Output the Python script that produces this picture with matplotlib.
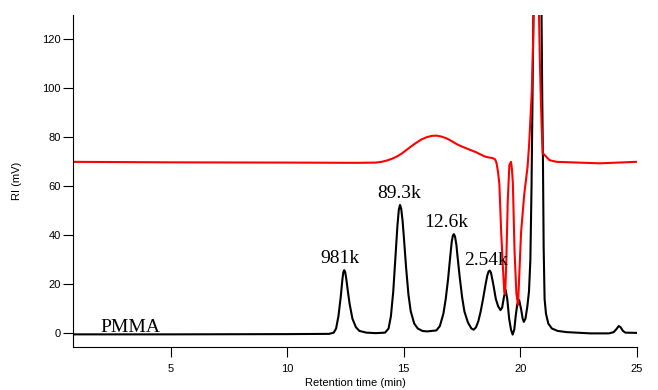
import matplotlib
matplotlib.use("Agg")
import matplotlib.pyplot as plt

# PMMA standards trace (black)
black_t = [0.9, 5.0, 10.0, 11.8, 12.0, 12.1, 12.2, 12.3, 12.37, 12.41, 12.45, 12.49, 12.54,
           12.6, 12.68, 12.8, 12.95, 13.1, 13.4, 13.8, 14.2, 14.35, 14.45, 14.55, 14.65,
           14.73, 14.79, 14.84, 14.89, 14.95, 15.0, 15.1, 15.2, 15.3, 15.45, 15.6, 15.8,
           16.0, 16.2, 16.4, 16.55, 16.7, 16.8, 16.9, 17.0, 17.06, 17.11, 17.15, 17.2,
           17.26, 17.3, 17.4, 17.5, 17.6, 17.75, 17.9, 18.0, 18.1, 18.2, 18.3, 18.4, 18.5,
           18.58, 18.64, 18.69, 18.74, 18.8, 18.85, 18.95, 19.05, 19.15, 19.22, 19.3, 19.37,
           19.44, 19.52, 19.6, 19.67, 19.74, 19.8, 19.87, 19.95, 20.03, 20.1, 20.15, 20.22,
           20.3, 20.37, 20.43, 20.48, 20.52, 20.56, 20.62, 20.7, 20.76, 20.83, 20.9, 20.94,
           20.97, 21.0, 21.04, 21.1, 21.2, 21.35, 21.6, 22.0, 23.0, 23.8, 24.0, 24.1, 24.22,
           24.3, 24.4, 24.5, 25.0]
black_v = [-0.4, -0.4, -0.3, -0.2, 0.3, 2, 7, 15, 22, 25, 25.8, 25, 22,
           17.5, 12, 6, 2.5, 1, 0.3, 0.1, 0.3, 2, 7, 17, 32,
           44, 50.5, 52.4, 51, 46, 40, 27, 16, 9, 4, 2, 1,
           0.8, 1, 1.2, 3, 8, 14, 22, 32, 37.5, 40, 40.5, 39.5,
           36, 32, 23, 15, 9, 4.5, 2, 1.5, 2.5, 5, 9, 14, 19.5,
           23.5, 25.3, 25.6, 24.8, 22, 19.5, 14, 11, 9.5, 10.5, 15, 17.7,
           14, 6, 1.5, -0.5, 1.5, 7, 12, 13.6, 10, 6, 4.7, 6,
           11, 17, 30, 60, 95, 130, 220, 320, 350, 260, 140, 95,
           70, 35, 14, 8, 4, 2, 1, 0.5, 0, 0, 0.5, 1.5, 3,
           2.5, 1, 0.3, 0.2]

# second trace (red)
red_t = [0.9, 5.0, 10.0, 13.0, 13.8, 14.05, 14.26, 14.48, 14.69, 14.9, 15.11, 15.33, 15.54,
         15.75, 15.97, 16.2, 16.4, 16.62, 16.83, 17.05, 17.26, 17.48, 17.69, 17.9, 18.11,
         18.3, 18.47, 18.65, 18.82, 18.92, 18.98, 19.04, 19.1, 19.18, 19.25, 19.31, 19.35,
         19.4, 19.46, 19.53, 19.6, 19.64, 19.68, 19.75, 19.83, 19.9, 19.96, 20.03, 20.17,
         20.31, 20.38, 20.45, 20.49, 20.53, 20.57, 20.62, 20.69, 20.75, 20.8, 20.84, 20.88,
         20.93, 20.96, 21.04, 21.25, 21.55, 23.4, 24.97]
red_v = [70, 69.8, 69.7, 69.6, 69.7, 70, 70.5, 71.2, 72.1, 73.3, 74.8, 76.4, 77.8,
         79.1, 80, 80.6, 80.7, 80.3, 79.6, 78.5, 77.3, 76.3, 75.5, 74.7, 73.9,
         73.0, 72.2, 71.8, 71.5, 71.0, 69.5, 66, 61, 41, 27.5, 17, 16,
         30, 54, 68.7, 70, 67, 61.2, 34, 16.3, 11.6, 25, 41, 57,
         68, 77.5, 91, 98, 112, 130, 200, 260, 200, 130, 110, 95,
         80, 73.5, 72.8, 70.7, 70, 69.4, 70]

peak_labels = ["981k", "89.3k", "12.6k", "2.54k"]
label_t = [12.26, 14.81, 16.83, 18.51]
label_v = [28.7, 55.2, 43.4, 27.9]

fig = plt.figure(figsize=(6.58, 3.9), dpi=100)
ax = fig.add_axes([0.111, 0.110, 0.857, 0.852])

ax.plot(black_t, black_v, color="#000000", lw=1.5)
ax.plot(red_t, red_v, color="#ff0000", lw=1.5)

for s, t, v in zip(peak_labels, label_t, label_v):
    ax.text(t, v, s, ha="center", va="baseline", fontsize=14, family="Liberation Serif")
ax.text(3.27, 0.4, "PMMA", ha="center", va="baseline", fontsize=14, family="Liberation Serif")

ax.set_xlim(0.82, 25)
ax.set_ylim(-5.6, 130)
ax.set_xticks([5, 10, 15, 20, 25])
ax.set_yticks([0, 20, 40, 60, 80, 100, 120])
ax.tick_params(labelsize=8, length=7, width=0.8, direction="out")
ax.tick_params(axis="x", pad=5)
ax.tick_params(axis="y", pad=2)
for lab in ax.get_xticklabels() + ax.get_yticklabels():
    lab.set_family("Liberation Sans")
ax.spines["top"].set_visible(False)
ax.spines["right"].set_visible(False)
ax.spines["left"].set_linewidth(0.8)
ax.spines["bottom"].set_linewidth(0.8)

ax.set_xlabel("Retention time (min)", fontsize=8, family="Liberation Sans", labelpad=3)
ax.set_ylabel("RI (mV)", fontsize=8, family="Liberation Sans", labelpad=14)

fig.savefig("out.png", dpi=100)
